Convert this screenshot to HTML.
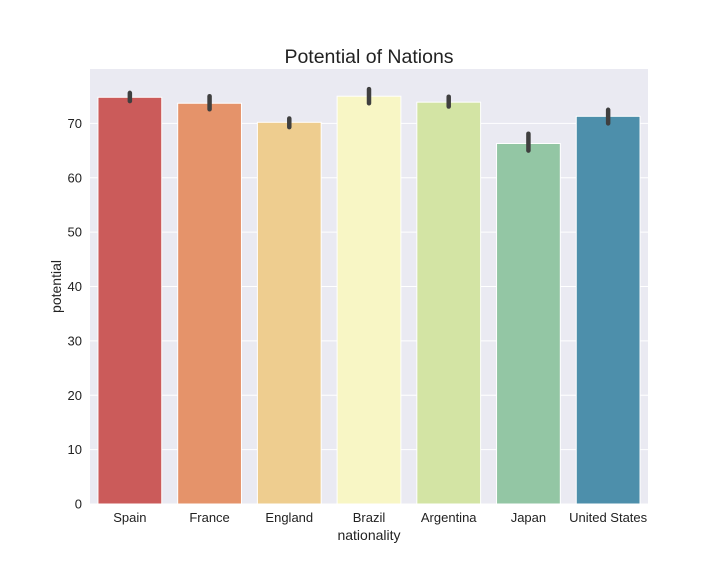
<!DOCTYPE html>
<html><head><meta charset="utf-8">
<style>
body{margin:0;background:#fff;font-family:"Liberation Sans",sans-serif;}
svg text{font-family:"Liberation Sans",sans-serif;}
</style></head>
<body>
<svg width="720" height="576" id="chart">
<rect x="0" y="0" width="720" height="576" fill="#fff"/>
</svg>
<script>
const categories=["Spain","France","England","Brazil","Argentina","Japan","United States"];
const values=[74.8,73.7,70.2,75.0,73.9,66.3,71.3];
const errLow=[74.1,72.6,69.3,73.7,73.1,65.0,70.0];
const errHigh=[75.6,75.0,70.9,76.3,74.9,68.1,72.5];
const colors=["#cb5b5a","#e5936a","#eecd8f","#f8f6c5","#d3e4a4","#93c6a4","#4d8fab"];
const yTicks=[0,10,20,30,40,50,60,70];
const NS="http://www.w3.org/2000/svg";
const svg=document.getElementById('chart');
const L=90,R=648,T=69,B=504,yMax=80;
const y=v=>B-(v/yMax)*(B-T);
const band=(R-L)/categories.length;
const x=i=>L+band*i;
function el(t,a,p){const e=document.createElementNS(NS,t);for(const k in a)e.setAttribute(k,a[k]);(p||svg).appendChild(e);return e;}
const bg=el('rect',{x:L,y:T,width:R-L,height:B-T,fill:'#eaeaf2'});


yTicks.forEach(t=>{
 const g=el('line',{x1:L,x2:R,y1:y(t),y2:y(t),stroke:'#fff','stroke-width':1});
 
 
 const tx=el('text',{x:L-8,y:y(t)+4.5,'text-anchor':'end','font-size':13,fill:'#222'});
 tx.textContent=t;
 
 
});
categories.forEach((c,i)=>{
 const bw=band*0.8;
 const r=el('rect',{x:x(i)+band*0.1,y:y(values[i]),width:bw,height:B-y(values[i]),fill:colors[i],stroke:'#fff','stroke-width':1});
 
 
 const e=el('line',{x1:x(i)+band/2,x2:x(i)+band/2,y1:y(errLow[i]),y2:y(errHigh[i]),stroke:'#3f3f3f','stroke-width':4.5,'stroke-linecap':'round'});
 
 
 const tx=el('text',{x:x(i)+band/2,y:B+18,'text-anchor':'middle','font-size':13,fill:'#222'});
 tx.textContent=c;
 
 
});
const title=el('text',{x:(L+R)/2,y:63,'text-anchor':'middle','font-size':19.5,fill:'#222'});
title.textContent='Potential of Nations';


const xt=el('text',{x:(L+R)/2,y:540,'text-anchor':'middle','font-size':14,fill:'#222'});
xt.textContent='nationality';


const yt=el('text',{x:61,y:(T+B)/2,'text-anchor':'middle','font-size':14,fill:'#222',transform:'rotate(-90 61 '+((T+B)/2)+')'});
yt.textContent='potential';


</script>
</body></html>
